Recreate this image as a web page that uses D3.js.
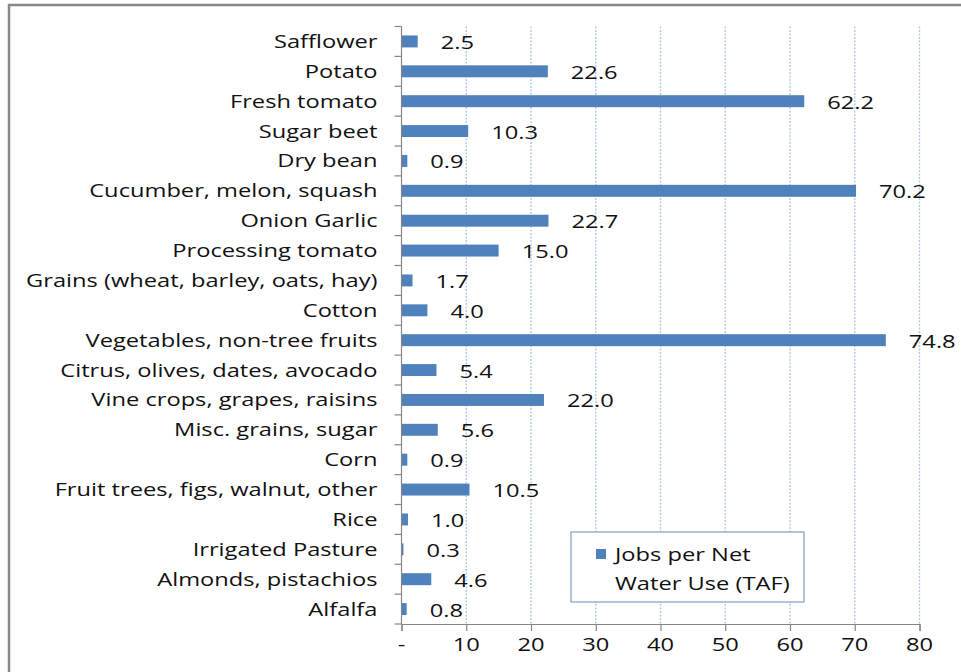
<!DOCTYPE html>
<html><head><meta charset="utf-8">
<script src="https://cdn.jsdelivr.net/npm/d3@7"></script>
<style>body{margin:0;background:#fff;}svg{display:block;font-family:"Open Sans",sans-serif;}</style>
</head><body>
<svg id="c" width="961" height="672"></svg>
<script>
const categories = ["Safflower","Potato","Fresh tomato","Sugar beet","Dry bean","Cucumber, melon, squash","Onion Garlic","Processing tomato","Grains (wheat, barley, oats, hay)","Cotton","Vegetables, non-tree fruits","Citrus, olives, dates, avocado","Vine crops, grapes, raisins","Misc. grains, sugar","Corn","Fruit trees, figs, walnut, other","Rice","Irrigated Pasture","Almonds, pistachios","Alfalfa"];
const values = [2.5,22.6,62.2,10.3,0.9,70.2,22.7,15.0,1.7,4.0,74.8,5.4,22.0,5.6,0.9,10.5,1.0,0.3,4.6,0.8];
const xTicks = [0,10,20,30,40,50,60,70,80];
const xTickLabels = ["-","10","20","30","40","50","60","70","80"];
const seriesName = ["Jobs per Net","Water Use (TAF)"];

const svg = d3.select("#c");
const barColor = "#4F81BD", axisColor = "#868686", gridColor = "#B4C8E6";
const mL = 401.5, mR = 919.5, mT = 26.5, mB = 624;
const FS = 18.5, SX = 1.28;

svg.append("rect").attr("x",9).attr("y",5).attr("width",1000).attr("height",700)
  .attr("fill","none").attr("stroke","#898989").attr("stroke-width",2.5);

const x = d3.scaleLinear().domain([0,80]).range([mL,mR]);
const y = d3.scaleBand().domain(categories).range([mT,mB]).paddingInner(0.6).paddingOuter(0.3);

function label(g, px, py, txt, anchor){
  return g.append("text").attr("transform",`translate(${px},${py}) scale(${SX},1)`)
    .attr("text-anchor",anchor).attr("dy","0.35em").attr("font-size",FS)
    .attr("fill","#111").text(txt);
}

// gridlines
svg.append("g").selectAll("line").data(xTicks.filter(d=>d>0)).join("line")
  .attr("x1",d=>x(d)).attr("x2",d=>x(d)).attr("y1",mT).attr("y2",mB)
  .attr("stroke",gridColor).attr("stroke-width",1.4).attr("stroke-dasharray","2,1.5");

// bars
svg.append("g").selectAll("rect").data(values).join("rect")
  .attr("x",x(0)).attr("y",(d,i)=>y(categories[i]))
  .attr("width",d=>x(d)-x(0)).attr("height",y.bandwidth())
  .attr("fill",barColor);

// value labels
const gv = svg.append("g");
values.forEach((v,i)=>label(gv, x(v)+23, y(categories[i])+y.bandwidth()/2+1, v.toFixed(1), "start"));

// y axis
const gy = svg.append("g");
categories.forEach(c=>label(gy, mL-24, y(c)+y.bandwidth()/2, c, "end"));
const bounds = d3.range(categories.length+1).map(i=>mT+i*(mB-mT)/categories.length);
svg.append("g").selectAll("line").data(bounds).join("line")
  .attr("x1",mL-7).attr("x2",mL).attr("y1",d=>d).attr("y2",d=>d)
  .attr("stroke",axisColor).attr("stroke-width",1.2);
svg.append("line").attr("x1",mL).attr("x2",mL).attr("y1",mT).attr("y2",mB)
  .attr("stroke",axisColor).attr("stroke-width",1.2);

// x axis
const xAxis = d3.axisBottom(x).tickValues(xTicks).tickSize(7).tickFormat(()=> "");
const gx = svg.append("g").attr("transform",`translate(0,${mB})`).call(xAxis);
gx.select(".domain").attr("stroke",axisColor).attr("stroke-width",1.2);
gx.selectAll(".tick line").attr("stroke",axisColor).attr("stroke-width",1.2);
const gxl = svg.append("g");
xTicks.forEach((t,i)=>label(gxl, x(t), mB+21, xTickLabels[i], "middle"));

// legend
const lg = svg.append("g");
lg.append("rect").attr("x",571).attr("y",532).attr("width",233).attr("height",70)
  .attr("fill","#fff").attr("stroke","#7F9DC9").attr("stroke-width",1.2);
lg.append("rect").attr("x",596).attr("y",549).attr("width",10).attr("height",10).attr("fill",barColor);
seriesName.forEach((s,i)=>label(lg, 615, 555+i*29, s, "start"));
</script>
</body></html>
